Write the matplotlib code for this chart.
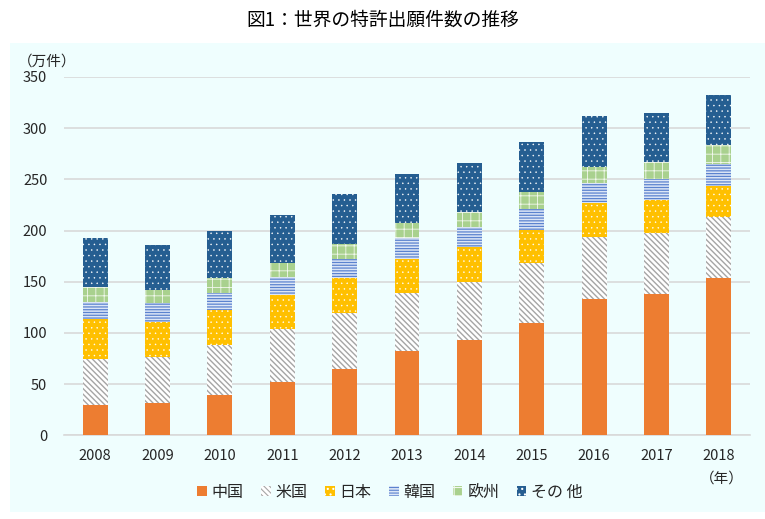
#!/usr/bin/env python

import numpy as np
import matplotlib
matplotlib.use('Agg')
import matplotlib.pyplot as plt
from matplotlib.patches import Rectangle, Patch

plt.rcParams['font.family'] = ['Noto Sans CJK JP', 'DejaVu Sans']
plt.rcParams['hatch.linewidth'] = 0.8

years = ['2008', '2009', '2010', '2011', '2012', '2013', '2014', '2015', '2016', '2017', '2018']
series = ['中国', '米国', '日本', '韓国', '欧州', 'その 他']

# 万件
china = [29.3, 31.8, 39.0, 52.3, 64.7, 82.0, 92.8, 110.0, 133.0, 138.3, 154.0]
usa = [44.9, 44.7, 49.2, 51.2, 54.7, 57.3, 57.2, 58.6, 61.0, 59.7, 59.0]
japan = [39.4, 34.5, 33.8, 33.5, 34.6, 33.2, 33.6, 31.9, 32.5, 31.8, 31.0]
korea = [17.0, 18.0, 16.7, 18.0, 18.0, 19.9, 20.1, 20.8, 19.5, 20.5, 21.0]
europe = [14.5, 13.0, 15.3, 13.6, 14.5, 14.9, 14.7, 16.7, 15.7, 16.7, 18.5]
other = [47.9, 43.5, 45.2, 46.2, 49.2, 47.7, 47.8, 48.7, 50.3, 48.0, 48.8]

# face, hatch colour, hatch, hatch width
styles = [
    ('#ED7D31', '#ED7D31', None, 0.8),
    ('#FFFFFF', '#A5A5A5', '\\\\\\\\\\\\', 1.0),
    ('#FFC000', '#FFFFFF', '...', 0.3),
    ('#DCE6F6', '#5B83CF', '------', 0.9),
    ('#A9D18E', '#F2F8EE', '++', 0.6),
    ('#255E91', '#FFFFFF', '...', 0.3),
]

bg = '#EFFEFE'

fig = plt.figure(figsize=(7.65, 5.19), dpi=100)
fig.patch.set_facecolor('white')
fig.patches.append(Rectangle((10/765, 1-512/519), 755/765, (512-43)/519,
                             transform=fig.transFigure, facecolor=bg, edgecolor='none', zorder=-5))

ax = fig.add_axes([64/765, 1-435.3/519, (750-64)/765, (435.3-77)/519])
ax.set_zorder(2)
ax.patch.set_alpha(0)

def hatch_width(artist, w):
    # per-artist hatch width only exists in newer matplotlib
    if hasattr(artist, 'set_hatch_linewidth'):
        artist.set_hatch_linewidth(w)

x = np.arange(len(years))
bottom = np.zeros(len(years))
handles = []
for name, vals, (fc, hc, hatch, hw) in zip(series, [china, usa, japan, korea, europe, other], styles):
    vals = np.array(vals)
    bars = ax.bar(x, vals, width=0.4, bottom=bottom, facecolor=fc, edgecolor=hc,
                  hatch=hatch, linewidth=0, zorder=3)
    for b in bars:
        hatch_width(b, hw)
    bottom += vals
    h = Patch(facecolor=fc, edgecolor=hc, hatch=hatch, linewidth=0, label=name)
    hatch_width(h, hw)
    handles.append(h)

ax.set_xlim(-0.5, len(years)-0.5)
ax.set_ylim(0, 350)
ax.set_yticks(np.arange(0, 351, 50))
ax.set_xticks(x)
ax.set_xticklabels(years)
ax.set_axisbelow(True)
ax.yaxis.grid(True, color='#D9D9D9', linewidth=1.2)
for s in ['top', 'right', 'left']:
    ax.spines[s].set_visible(False)
ax.spines['bottom'].set_color('#D9D9D9')
ax.spines['bottom'].set_linewidth(1.2)
ax.tick_params(axis='both', length=0, labelsize=10.5, colors='#262626')
ax.tick_params(axis='y', pad=12)
ax.tick_params(axis='x', pad=10)

fig.text(0.5, 1-20/519, '図1：世界の特許出願件数の推移', ha='center', va='center', fontsize=13.5)
fig.text(18/765, 1-62/519, '（万件）', ha='left', va='center', fontsize=10.5, color='#262626')
fig.text(722/765, 1-479/519, '（年）', ha='center', va='center', fontsize=10.5, color='#262626')

fig.legend(handles=handles, loc='center', bbox_to_anchor=(390/765, 1-492/519), ncol=6,
           frameon=False, fontsize=11.5, handlelength=0.6, handleheight=0.6,
           handletextpad=0.3, columnspacing=1.1, labelcolor='#262626')

fig.savefig('out.png', dpi=100, facecolor=fig.get_facecolor())
